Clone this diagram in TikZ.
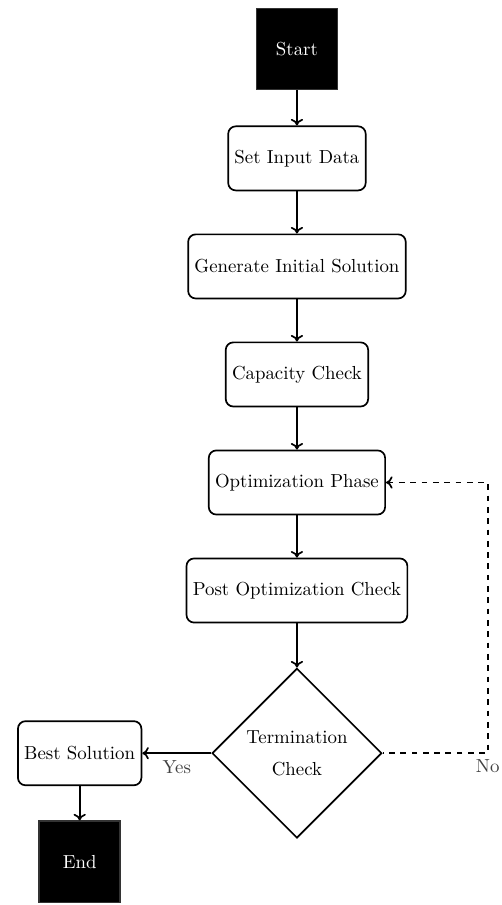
\documentclass[tikz,border=0pt]{standalone}
\usepackage{tikz}
\usetikzlibrary{positioning,shapes.geometric,arrows.meta}

\begin{document}
\begin{tikzpicture}[>={To[length=3.5pt,width=6.5pt]},
        terminal/.style={rectangle, draw=black!80, fill=black, text=white, line width=0.9pt, minimum size=43pt, inner sep=0pt},
        process/.style={rectangle, rounded corners=4pt, draw=black, line width=0.9pt, minimum height=34pt},
        decision/.style={diamond, draw=black, line width=0.9pt, aspect=1, minimum size=90pt, inner sep=0pt, align=center},
        flow/.style={->, line width=0.9pt},
        loopback/.style={<-, line width=0.9pt, dashed},
        answer/.style={text=black!75}]

        \useasboundingbox (-157.5pt,26pt) rectangle (108.7pt,-454pt);

        \node[terminal] (start) {Start};
        \node[process] (input) [below=18.6pt of start] {Set Input Data};
        \node[process] (init) [below=22.4pt of input] {Generate Initial Solution};
        \node[process] (capacity) [below=22.4pt of init] {Capacity Check};
        \node[process] (optim) [below=22.4pt of capacity] {Optimization Phase};
        \node[process] (post) [below=22.4pt of optim] {Post Optimization Check};
        \node[decision] (term) [below=23.4pt of post] {Termination\\[5pt]Check};
        \node[process] (best) [left=36.6pt of term] {Best Solution};
        \node[terminal] (end) [below=18.2pt of best] {End};
        \coordinate[right=55.7pt of term.east] (corner);

        \draw[flow] (start) -- (input);
        \draw[flow] (input) -- (init);
        \draw[flow] (init) -- (capacity);
        \draw[flow] (capacity) -- (optim);
        \draw[flow] (optim) -- (post);
        \draw[flow] (post) -- (term);
        \draw[flow] (term) -- node[below, answer] {Yes} (best);
        \draw[flow] (best) -- (end);
        \draw[loopback] (optim.east) -| (corner) -- (term.east);
        \node[answer, below] at (corner) {No};

        \end{tikzpicture}
\end{document}
